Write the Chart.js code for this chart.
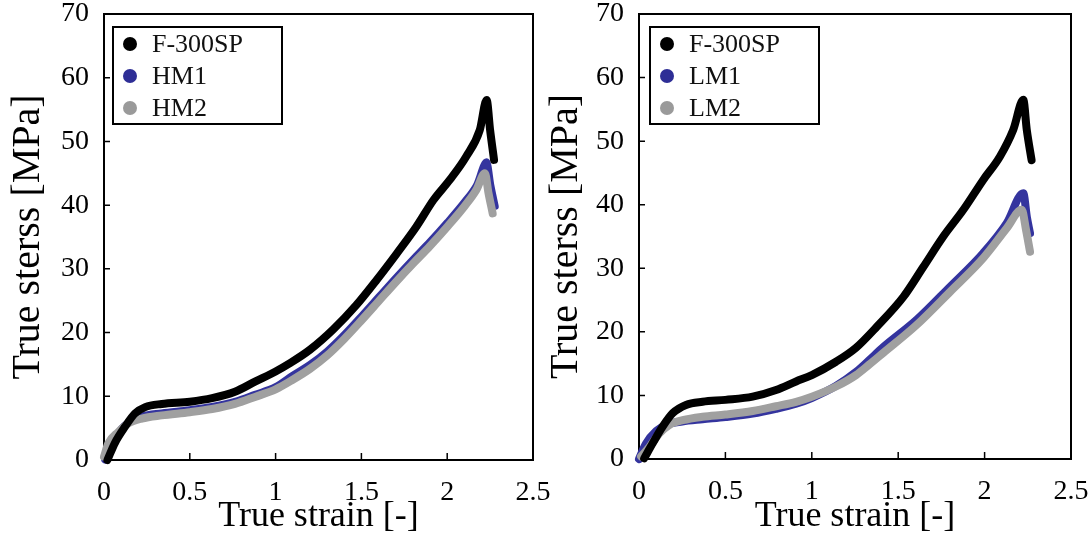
<!DOCTYPE html>
<html><head><meta charset="utf-8">
<script src="https://cdn.jsdelivr.net/npm/chart.js@4.4.0/dist/chart.umd.min.js"></script>
<style>
html,body{margin:0;padding:0;background:#fff;width:1092px;height:540px;overflow:hidden}
.c{position:absolute;top:0;height:540px}
</style></head><body>
<div class="c" style="left:0;width:560px"><canvas id="left" width="560" height="540"></canvas></div>
<div class="c" style="left:546px;width:546px"><canvas id="right" width="546" height="540"></canvas></div>
<script>
// ---- data ----
const leftFStrain  = [0.02,0.064,0.122,0.18,0.24,0.336,0.5,0.63,0.763,0.88,1.0,1.084,1.2,1.336,1.47,1.59,1.706,1.82,1.92,2.016,2.11,2.19,2.23,2.25,2.273];
const leftFStress  = [0,2.7,5.2,7.3,8.3,8.8,9.15,9.7,10.7,12.3,13.9,15.2,17.3,20.5,24.3,28.3,32.4,36.6,40.8,44,47.6,51.8,56.5,51.8,47.1];
const leftHM1Strain = [0.005,0.05,0.1,0.15,0.22,0.336,0.5,0.63,0.763,0.88,1.0,1.1,1.2,1.3,1.4,1.5,1.6,1.7,1.8,1.9,2.0,2.1,2.17,2.23,2.255,2.28];
const leftHM1Stress = [0,2.8,4.9,6.0,6.9,7.4,7.9,8.4,9.2,10.3,11.5,13.3,15.0,17.1,19.7,22.6,25.6,28.6,31.5,34.3,37.3,40.5,43.1,46.8,43.0,39.8];
const leftHM2Strain = [0,0.025,0.083,0.142,0.22,0.336,0.5,0.63,0.763,0.88,1.0,1.1,1.2,1.3,1.4,1.5,1.6,1.7,1.8,1.9,2.0,2.1,2.17,2.22,2.24,2.265];
const leftHM2Stress = [0.5,2.6,4.4,5.75,6.5,7.0,7.5,8.0,8.8,9.9,11.1,12.6,14.3,16.4,19.0,21.9,24.9,27.9,30.8,33.6,36.6,39.8,42.4,45.0,42.0,38.7];

const rightFStrain  = [0.03,0.08,0.137,0.195,0.272,0.368,0.5,0.658,0.793,0.909,1.0,1.14,1.256,1.376,1.53,1.645,1.761,1.877,1.992,2.089,2.166,2.224,2.244,2.272];
const rightFStress  = [0.1,2.5,5.1,7.2,8.5,9.0,9.3,9.8,10.85,12.2,13.2,15.3,17.5,20.8,25.5,30.2,35,39.2,43.9,47.6,51.8,56.5,51.8,47.0];
const rightLM1Strain = [0,0.04,0.1,0.16,0.25,0.368,0.5,0.658,0.793,0.909,1.0,1.14,1.256,1.33,1.414,1.607,1.8,1.992,2.128,2.224,2.245,2.263];
const rightLM1Stress = [0,2.4,4.4,5.4,5.9,6.25,6.6,7.15,7.9,8.7,9.6,11.5,13.7,15.5,17.6,21.9,27.1,32.4,37.1,41.8,38,35.5];
const rightLM2Strain = [0.012,0.06,0.117,0.175,0.253,0.368,0.5,0.658,0.793,0.909,1.0,1.14,1.256,1.33,1.414,1.607,1.8,1.992,2.128,2.215,2.24,2.263];
const rightLM2Stress = [0.4,1.9,4.0,5.35,6.1,6.65,7.0,7.55,8.3,9.0,9.8,11.4,13.2,14.8,16.7,21.1,26.3,31.6,36.3,39.2,36,32.6];

const leftLabels  = ['F-300SP','HM1','HM2'];
const rightLabels = ['F-300SP','LM1','LM2'];
const xTickLabels = ['0','0.5','1','1.5','2','2.5'];
const yTickLabels = ['0','10','20','30','40','50','60','70'];
const xTitle = 'True strain [-]';
const yTitle = 'True sterss [MPa]';
// --------------------------------------

const FONT = "'Liberation Serif','Times New Roman',serif";
const COLORS = ['#000000','#34349e','#a0a0a0'];
const LEGEND_DOT = ['#000000','#2e2e96','#9a9a9a'];

function pts(xs, ys){ return xs.map((v,i)=>({x:v,y:ys[i]})); }

function ds(label, xs, ys, idx, width, order){
  return {label, data: pts(xs, ys), showLine:true, borderColor:COLORS[idx], backgroundColor:COLORS[idx],
    borderWidth:width, pointRadius:0, cubicInterpolationMode:'monotone', borderCapStyle:'round',
    borderJoinStyle:'round', clip:false, order};
}

const framePlugin = {
  id:'frame',
  beforeDatasetsDraw(chart){
    const {ctx, chartArea:a, scales:{x,y}} = chart;
    ctx.save();
    ctx.strokeStyle='#000'; ctx.lineWidth=2;
    ctx.strokeRect(a.left, a.top, a.right-a.left, a.bottom-a.top);
    ctx.lineWidth=1.5;
    ctx.beginPath();
    x.ticks.forEach(t=>{const px=x.getPixelForValue(t.value); ctx.moveTo(px,a.bottom); ctx.lineTo(px,a.bottom-7);});
    y.ticks.forEach(t=>{const py=y.getPixelForValue(t.value); ctx.moveTo(a.left,py); ctx.lineTo(a.left+6,py);});
    ctx.stroke();
    ctx.restore();
  },
  afterDraw(chart, args, opts){
    const {ctx, chartArea:a} = chart;
    const bx = a.left + opts.dx, by = a.top + 13, bw = 169, bh = 97;
    ctx.save();
    ctx.fillStyle='#fff';
    ctx.fillRect(bx,by,bw,bh);
    ctx.strokeStyle='#000'; ctx.lineWidth=2;
    ctx.strokeRect(bx,by,bw,bh);
    ctx.font = "26px " + FONT;
    ctx.textBaseline='middle'; ctx.textAlign='left';
    chart.data.datasets.forEach((d,i)=>{
      const cy = by + 17 + i*32;
      ctx.fillStyle = LEGEND_DOT[i];
      ctx.beginPath(); ctx.arc(bx+17, cy, 7, 0, Math.PI*2); ctx.fill();
      ctx.fillStyle='#111';
      ctx.fillText(d.label, bx+39, cy+1);
    });
    ctx.restore();
  }
};

function makeChart(id, datasets, yw, xh, padRight, yTitlePad, legendDx){
  return new Chart(document.getElementById(id), {
    type:'scatter',
    data:{datasets},
    plugins:[framePlugin],
    options:{
      responsive:false, animation:false, devicePixelRatio:1,
      layout:{padding:{left:0,top:14,right:padRight,bottom:0}},
      plugins:{legend:{display:false}, tooltip:{enabled:false}, frame:{dx:legendDx}},
      scales:{
        x:{type:'linear', min:0, max:2.5,
          ticks:{stepSize:0.5, autoSkip:false, maxRotation:0, padding:16, color:'#000',
            font:{family:FONT,size:28,lineHeight:1.2},
            callback:(v,i)=>xTickLabels[i]},
          grid:{display:false, drawTicks:false}, border:{display:false},
          title:{display:true, text:xTitle, color:'#000', font:{family:FONT,size:36,lineHeight:1}, padding:{top:0,bottom:5}},
          afterFit(s){ s.height = xh; s.paddingLeft = 0; s.paddingRight = 0; }
        },
        y:{type:'linear', min:0, max:70,
          ticks:{stepSize:10, padding:15, color:'#000', font:{family:FONT,size:28,lineHeight:1.2},
            callback:(v,i)=>yTickLabels[i]},
          grid:{display:false, drawTicks:false}, border:{display:false},
          title:{display:true, text:yTitle, color:'#000', font:{family:FONT,size:40,lineHeight:1}, padding:{top:yTitlePad,bottom:0}},
          afterFit(s){ s.width = yw; s.paddingTop = 0; s.paddingBottom = 0; }
        }
      }
    }
  });
}

makeChart('left', [
  ds(leftLabels[0], leftFStrain, leftFStress, 0, 8, 0),
  ds(leftLabels[1], leftHM1Strain, leftHM1Stress, 1, 7, 2),
  ds(leftLabels[2], leftHM2Strain, leftHM2Stress, 2, 8, 1)
], 104, 80, 27, 8, 9);

makeChart('right', [
  ds(rightLabels[0], rightFStrain, rightFStress, 0, 8, 0),
  ds(rightLabels[1], rightLM1Strain, rightLM1Stress, 1, 8, 2),
  ds(rightLabels[2], rightLM2Strain, rightLM2Stress, 2, 8, 1)
], 93, 81, 21, 0, 11);
</script>
</body></html>
